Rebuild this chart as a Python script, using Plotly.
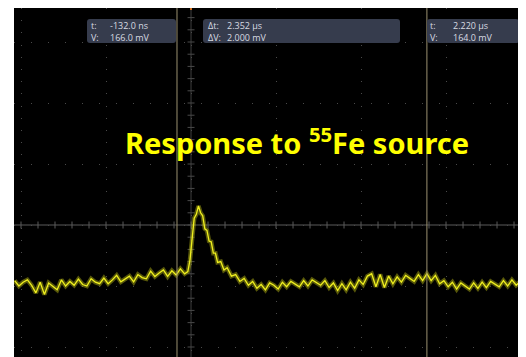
import plotly.graph_objects as go

# ---- data (time in µs, voltage in mV) ----
time_us = [-1.66,-1.62,-1.58,-1.54,-1.50,-1.46,-1.42,-1.38,-1.34,-1.30,-1.26,-1.22,-1.18,-1.14,-1.10,-1.06,-1.02,-0.98,-0.94,-0.90,
           -0.86,-0.82,-0.78,-0.74,-0.70,-0.66,-0.62,-0.58,-0.54,-0.50,-0.46,-0.42,-0.38,-0.34,-0.30,-0.26,-0.22,-0.18,-0.14,-0.10,
           -0.06,-0.03,-0.01,0.01,0.03,0.05,0.07,0.09,0.11,0.13,0.15,0.17,0.19,0.21,0.23,0.25,0.28,0.31,0.34,
           0.38,0.42,0.46,0.50,0.54,0.58,0.62,0.66,0.70,0.74,0.78,0.82,0.86,0.90,0.94,0.98,1.02,1.06,1.10,1.14,
           1.18,1.22,1.26,1.30,1.34,1.38,1.42,1.46,1.50,1.54,1.58,1.62,1.66,1.70,1.74,1.78,1.82,1.86,1.90,1.94,
           1.98,2.02,2.06,2.10,2.14,2.18,2.22,2.26,2.30,2.34,2.38,2.42,2.46,2.50,2.54,2.58,2.62,2.66,2.70,2.74,
           2.78,2.82,2.86,2.90,2.94,2.98,3.02,3.06,3.10]
volt_mv = [164.7,164.0,164.5,164.8,164.1,163.1,164.5,162.9,164.4,163.9,
           163.5,164.8,164.0,164.6,164.1,164.9,164.2,164.0,164.95,164.5,
           164.3,165.05,164.3,164.8,165.4,164.55,164.9,165.3,164.55,165.5,
           165.1,164.95,165.95,165.25,165.7,166.1,165.25,166.0,165.45,166.25,
           165.6,165.9,167.4,
           170.0,172.9,173.4,174.5,173.6,173.2,171.5,171.3,169.9,169.8,168.3,168.3,167.1,
           167.2,166.1,166.4,
           165.3,165.5,164.6,165.0,164.1,164.6,163.7,164.2,163.5,164.4,
           164.1,163.6,164.5,163.9,164.6,164.3,163.9,164.7,164.0,164.8,
           164.4,164.1,164.7,163.8,164.4,163.4,164.3,163.5,164.5,163.7,
           164.8,164.2,165.3,165.6,163.9,165.5,163.8,165.3,164.3,165.2,
           164.5,165.4,165.0,164.6,165.5,164.7,165.6,164.7,165.4,164.3,
           164.7,163.9,164.5,163.6,164.4,164.0,163.6,164.4,163.7,164.5,
           163.8,164.6,164.3,163.9,164.7,164.0,164.8,164.1,164.6]
assert len(time_us) == len(volt_mv)

cursor_t = [-0.132, 2.220]
readout_labels = [["t:", "V:"], ["Δt:", "ΔV:"], ["t:", "V:"]]
readout_values = [["-132.0 ns", "166.0 mV"], ["2.352 µs", "2.000 mV"], ["2.220 µs", "164.0 mV"]]
title_text = "Response to <sup>55</sup>Fe source"

# ---- display settings ----
X_DIV = 0.8       # µs/div
Y_DIV = 8.0       # mV/div
Y_CENTER = 172.0
X_RANGE = [-1.666, 3.115]
Y_RANGE = [154.69, 200.46]

OFF = 8                      # page body margin
W, H = 526 - OFF, 357 - OFF
ML, MR, MT, MB = 6, 4, 0, 0
PW, PH = W - ML - MR, H - MT - MB

def fx(px):  # screenshot px -> paper
    return (px - OFF - ML) / PW

def fy(py):
    return 1 - (py - OFF - MT) / PH

def rrect(x0, y0, x1, y1, r=3):
    rx, ry = r / PW, r / PH
    a0, a1, b0, b1 = fx(x0), fx(x1), fy(y0), fy(y1)
    return (f"M {a0+rx},{b0} L {a1-rx},{b0} Q {a1},{b0} {a1},{b0-ry} "
            f"L {a1},{b1+ry} Q {a1},{b1} {a1-rx},{b1} L {a0+rx},{b1} "
            f"Q {a0},{b1} {a0},{b1+ry} L {a0},{b0-ry} Q {a0},{b0} {a0+rx},{b0} Z")

fig = go.Figure()

# centre graticule tick marks
minor_x = [k * X_DIV / 5 for k in range(-12, 21)]
minor_y = [Y_CENTER + k * Y_DIV / 5 for k in range(-12, 20)]
fig.add_trace(go.Scatter(x=minor_x, y=[Y_CENTER] * len(minor_x), mode="markers",
                         marker=dict(symbol="line-ns", size=5, line=dict(color="#5a5a5a", width=1)),
                         hoverinfo="skip", showlegend=False))
fig.add_trace(go.Scatter(x=[0] * len(minor_y), y=minor_y, mode="markers",
                         marker=dict(symbol="line-ew", size=5, line=dict(color="#4a4a4a", width=1)),
                         hoverinfo="skip", showlegend=False))

# waveform: soft glow band + bright trace
fig.add_trace(go.Scatter(x=time_us, y=volt_mv, mode="lines",
                         line=dict(color="rgba(190,190,20,0.45)", width=4.5),
                         hoverinfo="skip", showlegend=False))
fig.add_trace(go.Scatter(x=time_us, y=volt_mv, mode="lines",
                         line=dict(color="#f0f020", width=1.3),
                         hoverinfo="skip", showlegend=False))

shapes = []
shapes.append(dict(type="line", xref="paper", yref="y", x0=0, x1=1, y0=Y_CENTER, y1=Y_CENTER,
                   line=dict(color="#5a5a5a", width=1), layer="below"))
shapes.append(dict(type="line", xref="x", yref="paper", x0=0, x1=0, y0=0, y1=1,
                   line=dict(color="#3e3e3e", width=1), layer="below"))
for ct in cursor_t:
    shapes.append(dict(type="line", xref="x", yref="paper", x0=ct, x1=ct, y0=0, y1=1,
                       line=dict(color="#9b9170", width=1)))
shapes.append(dict(type="line", xref="x", yref="paper", x0=0, x1=0, y0=1, y1=fy(10),
                   line=dict(color="#d07020", width=2)))

boxes = [(87, 19, 176, 43), (203, 19, 400, 43), (427, 19, 519, 43)]
label_x = [90, 207, 429]
value_x = [109, 226, 452]
annotations = []
for i, (x0, y0, x1, y1) in enumerate(boxes):
    shapes.append(dict(type="path", xref="paper", yref="paper", path=rrect(x0, y0, x1, y1),
                       fillcolor="#363c4d", line=dict(width=0)))
    annotations.append(dict(xref="paper", yref="paper", x=fx(label_x[i]), y=fy(31.5),
                            xanchor="left", yanchor="middle", showarrow=False, align="left",
                            borderpad=0, text="<br>".join(readout_labels[i]),
                            font=dict(family="Open Sans", size=9, color="#d8dbe2")))
    annotations.append(dict(xref="paper", yref="paper", x=fx(value_x[i]), y=fy(31.5),
                            xanchor="left", yanchor="middle", showarrow=False, align="left",
                            borderpad=0, text="<br>".join(readout_values[i]),
                            font=dict(family="Open Sans", size=9, color="#d8dbe2")))

annotations.append(dict(xref="paper", yref="paper", x=fx(297), y=fy(141),
                        xanchor="center", yanchor="middle", showarrow=False,
                        text=f"<b>{title_text}</b>",
                        font=dict(family="Noto Sans", size=29, color="#ffff00")))

fig.update_layout(
    width=W, height=H,
    margin=dict(l=ML, r=MR, t=MT, b=MB),
    paper_bgcolor="white", plot_bgcolor="black",
    shapes=shapes, annotations=annotations,
    xaxis=dict(range=X_RANGE, showticklabels=False, ticks="", zeroline=False, showline=False,
               showgrid=True, tick0=0, dtick=X_DIV, gridcolor="#4a4a4a", gridwidth=1,
               griddash="1px,11.2px", fixedrange=True),
    yaxis=dict(range=Y_RANGE, showticklabels=False, ticks="", zeroline=False, showline=False,
               showgrid=True, tick0=Y_CENTER, dtick=Y_DIV, gridcolor="#4a4a4a", gridwidth=1,
               griddash="1px,16px", fixedrange=True),
)

fig.write_html("out.html")
